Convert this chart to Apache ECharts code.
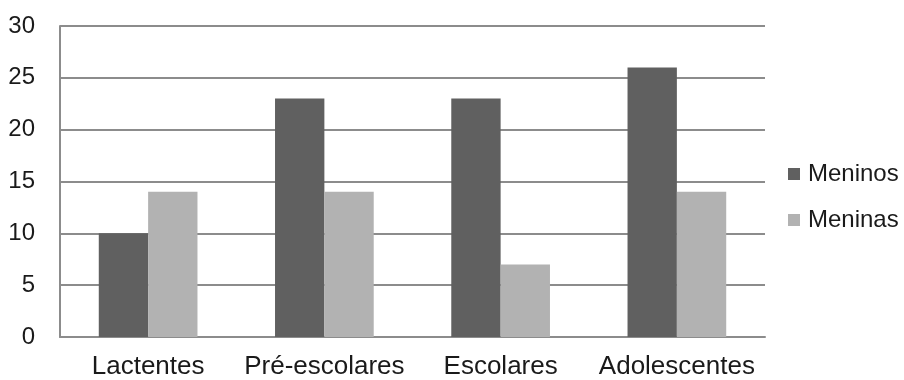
<!DOCTYPE html>
<html>
<head>
<meta charset="utf-8">
<script src="https://cdn.jsdelivr.net/npm/echarts@6/dist/echarts.min.js"></script>
<style>
  html, body { margin: 0; padding: 0; background: #fff; }
  #chart { width: 904px; height: 380px; }
</style>
</head>
<body>
<div id="chart"></div>
<script>
// Age groups on the x axis
const categories = ['Lactentes', 'Pré-escolares', 'Escolares', 'Adolescentes'];
// Counts per group
const meninos = [10, 23, 23, 26];
const meninas = [14, 14, 7, 14];
const yTicks = [0, 5, 10, 15, 20, 25, 30];

const font = 'Liberation Sans, Arial, sans-serif';
const chart = echarts.init(document.getElementById('chart'), null, { renderer: 'canvas' });

chart.setOption({
  animation: false,
  backgroundColor: '#ffffff',
  grid: { left: 60, right: 139, top: 26, bottom: 41, containLabel: false },
  legend: {
    orient: 'vertical',
    left: 783,
    top: 157,
    itemWidth: 12,
    itemHeight: 12,
    itemGap: 22,
    icon: 'rect',
    textStyle: { fontFamily: font, fontSize: 24, color: '#1a1a1a', padding: [0, 0, 0, 3] },
    data: ['Meninos', 'Meninas']
  },
  xAxis: {
    type: 'category',
    data: categories,
    axisLine: { show: true, lineStyle: { color: '#8c8c8c', width: 2 } },
    axisTick: { show: false },
    axisLabel: { interval: 0, fontFamily: font, fontSize: 26, color: '#1a1a1a', margin: 17 }
  },
  yAxis: {
    type: 'value',
    min: yTicks[0],
    max: yTicks[yTicks.length - 1],
    interval: 5,
    axisLine: { show: true, lineStyle: { color: '#8c8c8c', width: 2 } },
    axisTick: { show: false },
    axisLabel: { fontFamily: font, fontSize: 24, color: '#1a1a1a', margin: 25 },
    splitLine: { show: true, lineStyle: { color: '#8c8c8c', width: 2 } }
  },
  series: [
    {
      name: 'Meninos',
      type: 'bar',
      data: meninos,
      itemStyle: { color: '#606060' },
      barGap: '0%',
      barCategoryGap: '44%'
    },
    {
      name: 'Meninas',
      type: 'bar',
      data: meninas,
      itemStyle: { color: '#b2b2b2' }
    }
  ]
});
</script>
</body>
</html>
